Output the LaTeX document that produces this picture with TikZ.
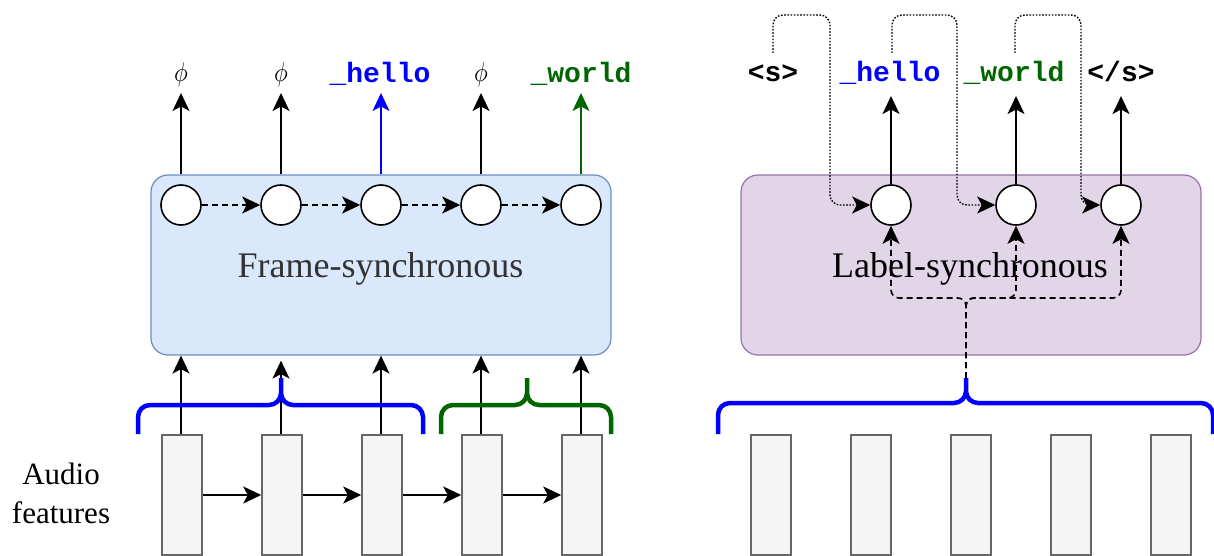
\documentclass[tikz,border=0pt]{standalone}
\usepackage{graphicx}
\usepackage{fontspec}
\setmainfont{Liberation Serif}
\setmonofont{Liberation Mono}
\usetikzlibrary{arrows.meta}
\definecolor{fsfill}{HTML}{DAE8FC}
\definecolor{fsdraw}{HTML}{6C8EBF}
\definecolor{lsfill}{HTML}{E1D5E7}
\definecolor{lsdraw}{HTML}{9673A6}
\definecolor{tokblue}{HTML}{0000FF}
\definecolor{tokgreen}{HTML}{006600}
\definecolor{featfill}{HTML}{F5F5F5}
\definecolor{featdraw}{HTML}{666666}
\definecolor{txtgray}{HTML}{333333}
\newcommand{\bigphi}{\scalebox{2.3}[2.7]{$\phi$}}
\begin{document}
\begin{tikzpicture}[x=1pt,y=-1pt,
  arr/.style={line width=1.6pt,-{Stealth[length=18pt,width=17pt,inset=4.5pt]}},
  dasharr/.style={arr,dash pattern=on 6pt off 4pt},
  dotarr/.style={arr,line width=1.4pt,dash pattern=on 1.6pt off 1.6pt,rounded corners=10pt},
  unit/.style={circle,draw,line width=1.6pt,fill=white,minimum size=40pt,inner sep=0pt},
  feat/.style={draw=featdraw,fill=featfill,line width=1.5pt,minimum width=40pt,minimum height=120pt,inner sep=0pt},
  panel/.style={rounded corners=17pt,line width=1.2pt,minimum width=460pt,minimum height=180pt,inner sep=0pt},
  tok/.style={font=\fontsize{28}{30}\selectfont\ttfamily\bfseries,inner sep=0pt,anchor=base},
  phil/.style={font=\fontsize{10}{12}\selectfont,inner sep=0pt,anchor=base},
  big/.style={font=\fontsize{36}{40}\selectfont,inner sep=0pt,anchor=base},
  brace/.style={line width=4.5pt,rounded corners=12pt}
]
\useasboundingbox (0,0) rectangle (1214,556);

% ---------------- left: frame-synchronous ----------------
\node[panel,draw=fsdraw,fill=fsfill] (fs) at (381,265) {};
\node[big,text=txtgray] (fslab) at (380.5,277) {Frame-synchronous};
\foreach \i/\x in {1/181,2/281,3/381,4/481,5/581}{
  \node[unit] (c\i) at (\x,205) {};
  \node[feat] (f\i) at (\x+1,495) {};
  \coordinate (t\i) at (\x,93);
}
\foreach \a/\b in {1/2,2/3,3/4,4/5}{
  \draw[dasharr] (c\a.east) -- (c\b.west);
  \draw[arr] (f\a.east) -- (f\b.west);
}
% outputs
\node[phil] (o1) at (181,82) {\bigphi};
\node[phil] (o2) at (281,82) {\bigphi};
\node[tok,text=tokblue] (o3) at (380,83) {\_hello};
\node[phil] (o4) at (481,82) {\bigphi};
\node[tok,text=tokgreen] (o5) at (581,83) {\_world};
\draw[arr] (fs.north -| c1) -- (t1);
\draw[arr] (fs.north -| c2) -- (t2);
\draw[arr,draw=tokblue,fill=tokblue] (fs.north -| c3) -- (t3);
\draw[arr] (fs.north -| c4) -- (t4);
\draw[arr,draw=tokgreen,fill=tokgreen] (fs.north -| c5) -- (t5);
% inputs
\foreach \i in {1,3,4,5}{
  \draw[arr] (f\i.north -| c\i) -- (fs.south -| c\i);
}
\draw[arr,shorten >=5pt] (f2.north -| c2) -- (fs.south -| c2);
% braces
\draw[brace,tokblue] (138,434) -- (138,405) -- (281,405) -- (281,378)
                     (281,378) -- (281,405) -- (423,405) -- (423,434);
\draw[brace,tokgreen] (441,434) -- (441,405) -- (527,405) -- (527,378)
                      (527,378) -- (527,405) -- (611,405) -- (611,434);
\node[font=\fontsize{31}{39}\selectfont,align=center,inner sep=0pt] (audio) at (61,493) {Audio\\features};

% ---------------- right: label-synchronous ----------------
\node[panel,draw=lsdraw,fill=lsfill] (ls) at (971,265) {};
\node[big] (lslab) at (970,277) {Label-synchronous};
\node[unit] (r1) at (891,205) {};
\node[unit] (r2) at (1016,205) {};
\node[unit] (r3) at (1121,205) {};
\foreach \i in {1,...,5}{
  \node[feat] (g\i) at (671+\i*100,495) {};
}
\node[tok] (s0) at (773,82) {<s>};
\node[tok,text=tokblue] (s1) at (890,82) {\_hello};
\node[tok,text=tokgreen] (s2) at (1014,82) {\_world};
\node[tok] (s3) at (1121,82) {</s>};
\coordinate (u1) at (891,96);
\coordinate (u2) at (1016,96);
\coordinate (u3) at (1121,96);
\draw[arr] (r1.north) -- (u1);
\draw[arr] (r2.north) -- (u2);
\draw[arr] (r3.north) -- (u3);
% dotted feedback
\coordinate (d0) at (773,53);
\coordinate (d1) at (892,53);
\coordinate (d2) at (1015,53);
\draw[dotarr] (d0) -- (773,15) -- (830,15) -- (830,205) -- (r1.west);
\draw[dotarr] (d1) -- (892,15) -- (957,15) -- (957,205) -- (r2.west);
\draw[dotarr] (d2) -- (1015,15) -- (1081,15) -- (1081,205) -- (r3.west);
% brace and dashed attention
\draw[brace,tokblue] (718,434) -- (718,403) -- (966,403) -- (966,378)
                     (966,378) -- (966,403) -- (1213,403) -- (1213,434);
\coordinate (bt) at (966,378);
\draw[dasharr,rounded corners=8pt] (bt) -- (966,298) -- (891,298) -- (r1.south);
\draw[dasharr,rounded corners=8pt] (bt) -- (966,298) -- (1016,298) -- (r2.south);
\draw[dasharr,rounded corners=8pt] (bt) -- (966,298) -- (1121,298) -- (r3.south);
\end{tikzpicture}
\end{document}
